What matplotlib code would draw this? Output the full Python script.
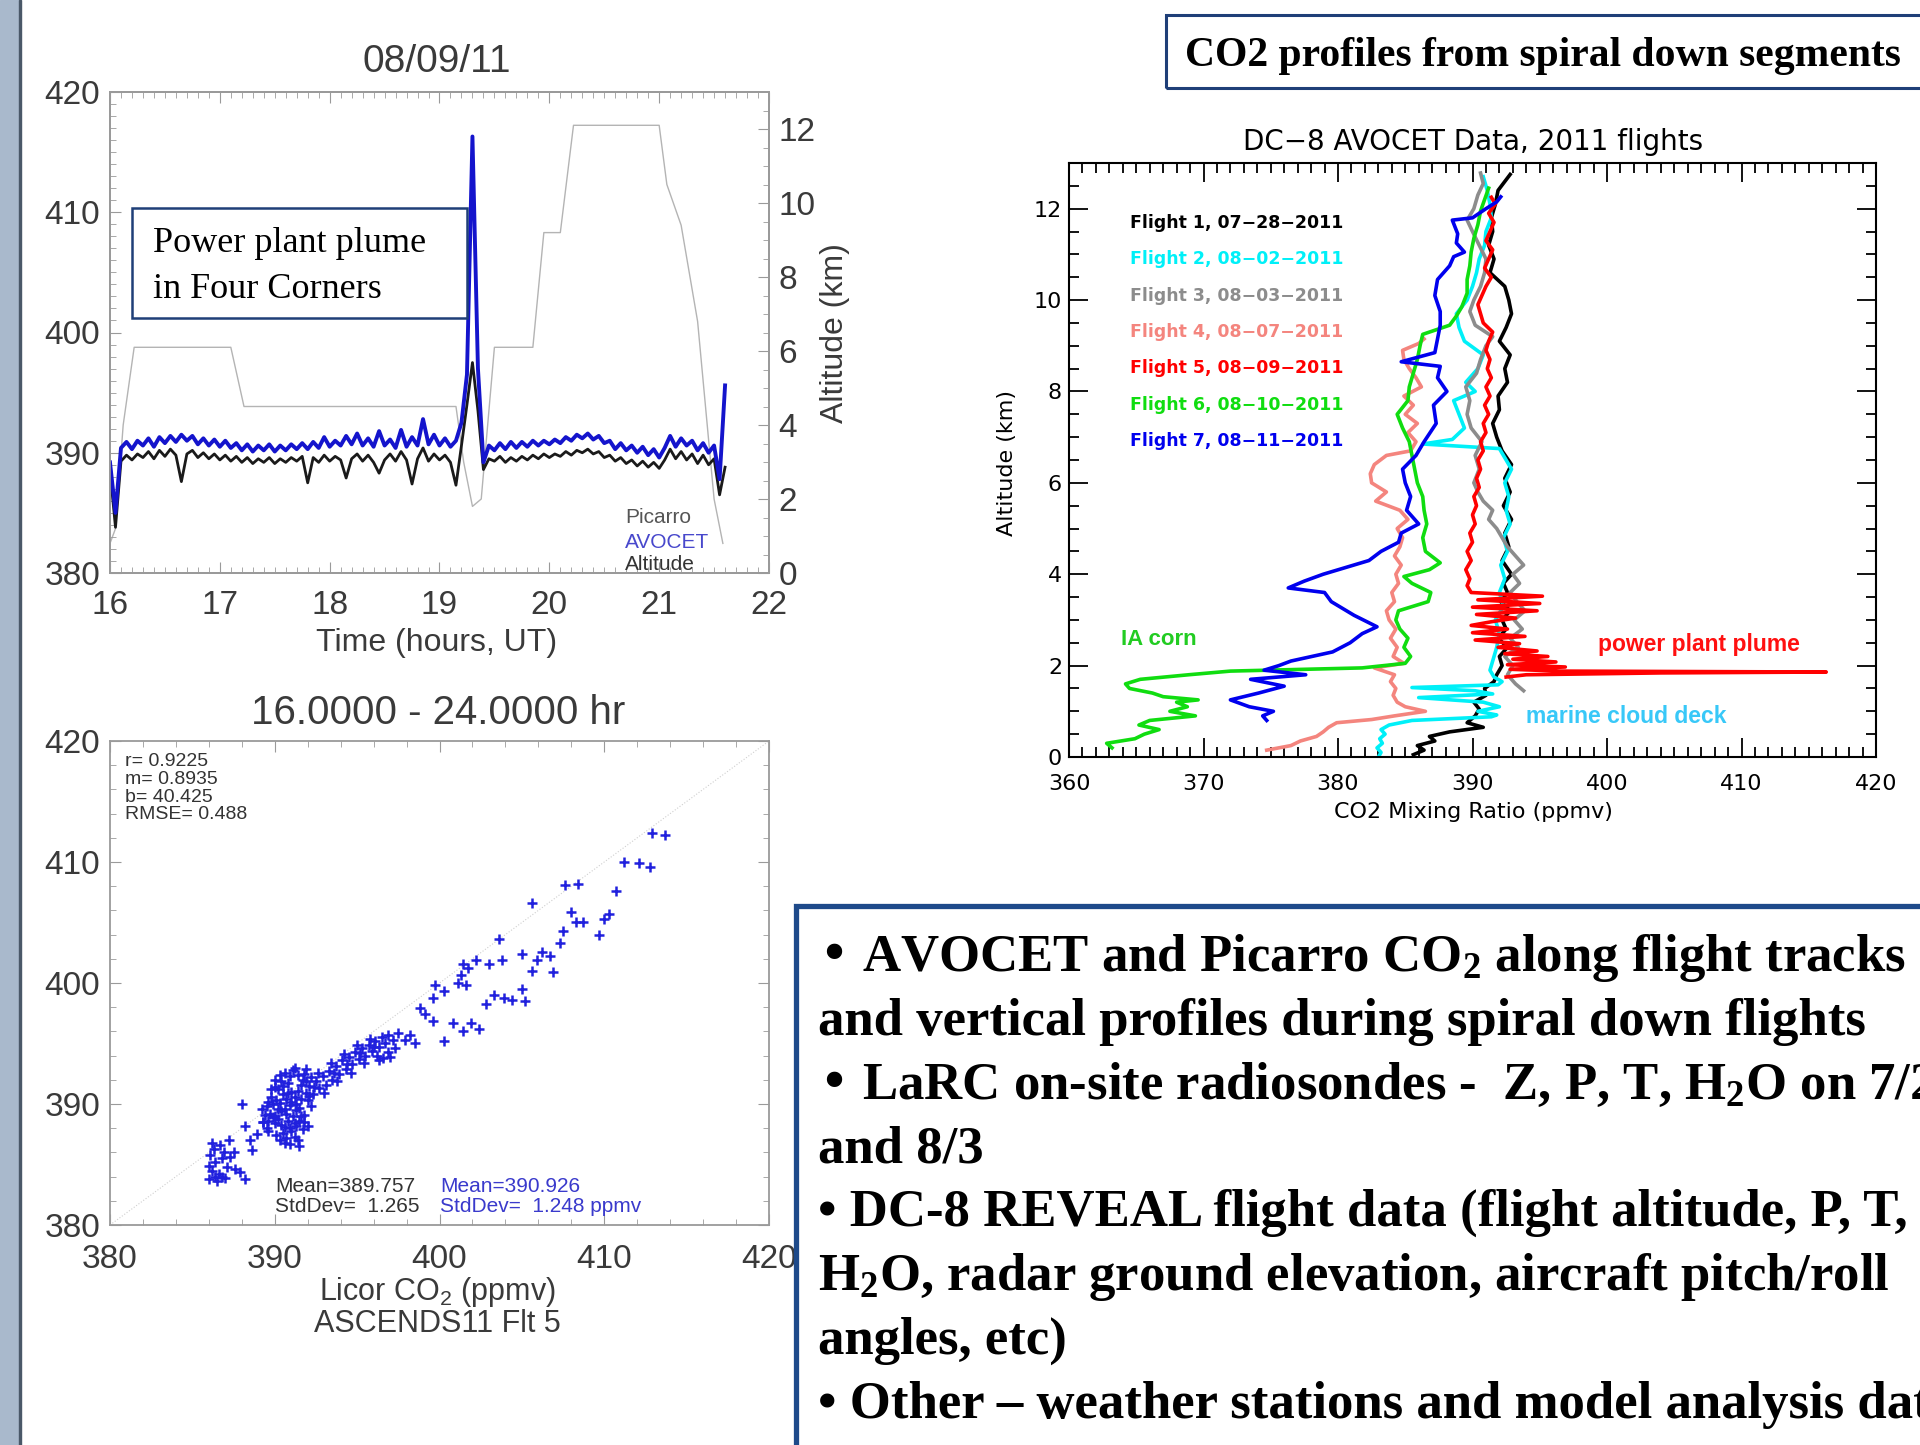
import numpy as np
import matplotlib
matplotlib.use("Agg")
import matplotlib.pyplot as plt
from matplotlib.patches import Rectangle
from matplotlib.ticker import MultipleLocator

plt.rcParams['mathtext.default'] = 'regular'

# ---------------- data: 08/09/11 time series ----------------
t_start, t_step = 16.0, 0.05          # sampling of the CO2 time series (hours UT)
avocet = [389.2, 385.0, 390.4, 390.9, 390.3, 391.0, 390.6, 391.2, 390.5, 391.3,
          390.8, 391.4, 390.9, 391.5, 391.0, 391.4, 390.7, 391.2, 390.6, 391.1,
          390.5, 391.0, 390.4, 390.8, 390.2, 390.7, 390.1, 390.6, 390.2, 390.7,
          390.1, 390.6, 390.2, 390.7, 390.3, 390.8, 390.3, 390.9, 390.4, 391.3,
          390.5, 391.0, 390.6, 391.4, 390.7, 391.6, 390.6, 391.2, 390.5, 391.8,
          390.6, 391.1, 390.4, 391.9, 390.5, 391.3, 390.6, 392.8, 390.7, 391.5,
          390.6, 391.2, 390.5, 391.0, 392.5, 396.5, 416.3, 397.0, 389.2, 390.6,
          390.2, 390.8, 390.3, 390.9, 390.4, 390.9, 390.5, 391.0, 390.6, 391.0,
          390.7, 391.1, 390.8, 391.3, 391.0, 391.5, 391.2, 391.6, 391.1, 391.4,
          390.8, 391.0, 390.3, 390.8, 390.2, 390.6, 390.0, 390.5, 389.8, 390.3,
          389.6, 390.4, 391.4, 390.5, 391.2, 390.6, 391.0, 390.2, 390.8, 390.0,
          390.6, 387.8, 395.6]
picarro = [388.5, 383.8, 389.3, 389.8, 389.4, 389.9, 389.6, 390.1, 389.5, 390.2,
           389.7, 390.3, 389.8, 387.6, 389.9, 390.2, 389.6, 390.0, 389.5, 389.9,
           389.4, 389.8, 389.3, 389.7, 389.2, 389.6, 389.1, 389.5, 389.2, 389.6,
           389.1, 389.5, 389.2, 389.6, 389.3, 389.7, 387.5, 389.6, 389.2, 389.8,
           389.3, 389.7, 389.4, 387.9, 389.5, 389.9, 389.3, 389.8, 389.2, 388.3,
           389.4, 389.9, 389.3, 390.1, 389.4, 387.4, 389.5, 390.4, 389.3, 389.9,
           389.4, 389.8, 389.2, 387.3, 390.6, 394.0, 397.5, 393.5, 388.6, 389.5,
           389.3, 389.7, 389.2, 389.6, 389.3, 389.7, 389.4, 389.8, 389.5, 389.9,
           389.6, 389.9, 389.7, 390.1, 389.8, 390.2, 390.0, 390.3, 389.9, 390.1,
           389.6, 389.8, 389.3, 389.6, 389.1, 389.4, 388.9, 389.3, 388.8, 389.2,
           388.7, 389.4, 390.3, 389.5, 390.1, 389.4, 389.9, 389.1, 389.8, 389.0,
           389.5, 386.5, 388.8]
t_co2 = t_start + t_step * np.arange(len(avocet))

alt_time = [16.00, 16.05, 16.12, 16.22, 17.10, 17.22, 19.15, 19.22, 19.30, 19.38,
            19.50, 19.85, 19.95, 20.10, 20.22, 21.00, 21.07, 21.20, 21.35, 21.50, 21.58]
alt_km = [0.8, 1.2, 4.0, 6.1, 6.1, 4.5, 4.5, 3.0, 1.8, 2.0,
          6.1, 6.1, 9.2, 9.2, 12.1, 12.1, 10.5, 9.4, 6.8, 2.0, 0.8]

# ---------------- data: Licor vs AVOCET scatter ----------------
scatter_pts = [
    (386.0, 383.8), (386.2, 384.5), (386.4, 385.2), (386.1, 385.8), (386.6, 384.2),
    (386.8, 385.5), (386.3, 386.3), (386.9, 386.0), (387.1, 384.8), (386.5, 383.6),
    (387.3, 385.6), (386.7, 386.6), (386.0, 384.9), (387.0, 383.9), (386.4, 384.0),
    (387.5, 386.0), (387.2, 387.0), (386.2, 386.8), (387.6, 384.6), (386.8, 384.0),
    (388.2, 383.8), (387.9, 384.4), (388.5, 387.0), (388.2, 388.2), (388.6, 386.2),
    (388.0, 390.0), (388.9, 387.5), (389.3, 388.5),
    (389.3, 388.5), (389.5, 389.8), (389.6, 387.8), (389.8, 390.6), (389.9, 388.9),
    (390.0, 391.4), (390.1, 387.4), (390.2, 389.6), (390.3, 392.4), (390.4, 388.3),
    (390.5, 390.8), (390.6, 386.8), (390.7, 389.2), (390.8, 391.7), (390.9, 388.0),
    (391.0, 390.2), (391.1, 392.8), (391.2, 387.3), (391.3, 389.5), (391.4, 391.1),
    (391.5, 388.6), (391.6, 390.4), (391.7, 392.0), (391.8, 389.1), (391.9, 390.9),
    (392.0, 388.2), (392.1, 391.5), (392.2, 389.8), (390.3, 390.1), (390.6, 389.6),
    (390.9, 389.9), (391.2, 390.6), (390.1, 390.3), (390.8, 388.6), (391.5, 389.7),
    (390.4, 391.9), (391.0, 387.8), (389.7, 389.2), (392.0, 390.3), (390.7, 390.4),
    (391.3, 388.2), (390.2, 388.8), (391.6, 391.6), (390.5, 387.6), (391.8, 392.5),
    (389.6, 390.2), (390.9, 392.3), (391.4, 387.0), (391.1, 389.0), (390.0, 389.0),
    (389.4, 389.1), (389.8, 391.2), (390.0, 392.0), (390.6, 392.6), (391.2, 393.0),
    (391.9, 392.9), (392.2, 392.2), (389.5, 388.0), (390.3, 387.0), (391.7, 387.9),
    (390.9, 386.7), (391.5, 386.5), (389.9, 390.0), (390.4, 389.4), (391.0, 391.0),
    (391.6, 389.0), (390.2, 391.2), (390.8, 390.9), (391.4, 392.4), (389.6, 388.6),
    (392.1, 390.7), (391.2, 388.4), (390.6, 388.1), (390.0, 388.4), (389.2, 389.6),
    (391.9, 391.9), (390.5, 391.5), (391.3, 390.0), (390.7, 387.2), (391.8, 388.5),
    (392.3, 390.8), (392.5, 391.9), (392.7, 391.3), (392.9, 392.3), (393.1, 391.6),
    (393.3, 392.7), (393.5, 392.0), (393.7, 393.1), (393.9, 392.5), (394.1, 393.6),
    (394.3, 392.9), (394.5, 393.9), (394.7, 393.3), (394.9, 394.3), (395.1, 393.7),
    (395.3, 394.6), (395.5, 394.0), (395.7, 394.9), (395.9, 394.4), (396.1, 395.2),
    (396.3, 394.7), (396.5, 395.5), (396.7, 395.0), (396.9, 395.7), (397.2, 395.3),
    (397.5, 395.9), (392.6, 392.6), (393.0, 390.9), (393.4, 393.4), (393.8, 391.9),
    (394.2, 394.1), (394.6, 392.6), (395.0, 394.9), (395.4, 393.4), (395.8, 395.4),
    (396.2, 394.0), (396.6, 393.8), (397.0, 393.9), (397.3, 394.6), (392.4, 391.4),
    (393.6, 392.6), (394.4, 393.3), (395.2, 394.2), (396.0, 394.7),
    (413.7, 412.2), (412.9, 412.4), (411.2, 410.0), (412.1, 409.9), (412.8, 409.6),
    (410.7, 407.6), (410.3, 405.7), (410.0, 405.3), (409.7, 404.0), (408.7, 405.0),
    (408.3, 405.0), (408.0, 405.9), (407.6, 408.1), (408.4, 408.2), (405.6, 406.6),
    (407.5, 404.3), (407.3, 403.3), (406.7, 402.2), (406.2, 402.6), (405.9, 401.9),
    (405.6, 401.0), (406.9, 400.9), (405.0, 402.4), (405.0, 399.5), (403.6, 403.6),
    (403.8, 401.9), (403.0, 401.6), (402.2, 401.9), (401.7, 401.2), (401.4, 401.6),
    (401.3, 400.7), (401.1, 400.0), (401.6, 399.8), (400.3, 399.3), (399.7, 399.8),
    (399.6, 398.8), (398.8, 397.9), (402.8, 398.3), (403.3, 399.0), (403.9, 398.8),
    (404.4, 398.6), (405.2, 398.5), (402.4, 396.2), (401.9, 396.7), (401.4, 396.0),
    (400.8, 396.7), (400.3, 395.2), (399.6, 396.9), (399.1, 397.4), (398.5, 395.0),
    (398.2, 395.7), (397.9, 395.3), (396.9, 394.3), (396.3, 393.6),
]
one_to_one = [380, 420]

# ---------------- data: DC-8 AVOCET spiral profiles ----------------
alt1 = [0.05, 0.15, 0.25, 0.35, 0.45, 0.55, 0.65, 0.75, 0.90, 1.05,
        1.20, 1.35, 1.50, 1.65, 1.80, 2.00, 2.20, 2.40, 2.60, 2.80,
        3.00, 3.20, 3.40, 3.60, 3.80, 4.00, 4.30, 4.60, 4.90, 5.20,
        5.50, 5.80, 6.10, 6.40, 6.70, 7.00, 7.30, 7.60, 7.90, 8.20,
        8.50, 8.80, 9.10, 9.40, 9.70, 10.00, 10.30, 10.60, 10.90, 11.20,
        11.50, 11.80, 12.10, 12.40, 12.75]
co2_1 = [385.6, 386.4, 385.9, 387.2, 386.8, 388.3, 390.8, 389.6, 390.2, 390.5,
         390.1, 391.0, 390.9, 391.6, 391.8, 392.2, 392.0, 392.6, 391.9, 392.5,
         392.2, 392.8, 392.1, 392.6, 392.3, 392.9, 392.2, 392.7, 392.4, 392.9,
         392.3, 392.8, 392.4, 392.9, 392.2, 391.8, 391.5, 392.0, 391.9, 392.6,
         392.4, 392.8, 392.0, 392.5, 392.9, 392.7, 392.4, 391.3, 391.6, 391.2,
         391.5, 391.4, 391.7, 391.9, 392.8]
alt2 = [0.00, 0.10, 0.20, 0.30, 0.40, 0.50, 0.60, 0.70, 0.80, 0.88,
        0.92, 1.00, 1.10, 1.20, 1.30, 1.38, 1.45, 1.52, 1.58, 1.65,
        1.75, 1.90, 2.10, 2.40, 2.70, 3.00, 3.30, 3.60, 3.90, 4.20,
        4.50, 4.80, 5.10, 5.40, 5.70, 6.00, 6.30, 6.60, 6.75, 6.85,
        6.95, 7.20, 7.50, 7.80, 8.00, 8.20, 8.50, 8.80, 9.10, 9.40,
        9.70, 10.00, 10.30, 10.60, 10.90, 11.20, 11.50, 11.80, 12.10, 12.40,
        12.70]
co2_2 = [383.0, 383.2, 382.9, 383.3, 383.1, 383.5, 383.2, 383.8, 385.5, 391.4,
         391.8, 390.4, 392.0, 390.8, 386.0, 391.5, 390.2, 385.5, 391.9, 392.2,
         391.6, 391.3, 391.5, 391.8, 392.0, 391.7, 392.3, 392.0, 392.4, 392.1,
         392.6, 392.3, 392.8, 392.5, 392.7, 392.4, 392.9, 392.3, 392.0, 386.3,
         388.5, 389.4, 389.0, 388.6, 390.2, 389.5, 390.4, 390.8, 389.4, 389.0,
         388.8, 389.6, 390.0, 390.3, 390.5, 390.9, 391.0, 391.4, 391.3, 391.1,
         390.8]
alt3 = [1.45, 1.60, 1.80, 2.00, 2.20, 2.40, 2.60, 2.80, 3.00, 3.20,
        3.40, 3.60, 3.80, 4.00, 4.20, 4.40, 4.60, 4.80, 5.00, 5.20,
        5.40, 5.60, 5.80, 6.00, 6.30, 6.60, 6.90, 7.20, 7.50, 7.80,
        8.10, 8.40, 8.70, 9.00, 9.20, 9.45, 9.75, 10.00, 10.30, 10.60,
        10.90, 11.20, 11.50, 11.75, 12.00, 12.30, 12.55, 12.78]
co2_3 = [393.8, 393.2, 392.6, 393.0, 392.4, 393.4, 392.8, 393.7, 393.1, 393.9,
         393.3, 392.8, 393.5, 393.0, 393.8, 393.2, 392.6, 392.2, 391.8, 391.2,
         391.5, 390.8, 390.4, 390.1, 390.5, 390.2, 390.7, 389.9, 389.6, 389.8,
         389.5, 390.3, 390.6, 391.0, 391.5, 390.2, 389.8, 390.1, 390.6, 390.9,
         391.0, 390.5, 390.0, 389.6, 390.1, 390.4, 390.8, 390.6]
alt4 = [0.15, 0.25, 0.35, 0.45, 0.55, 0.65, 0.75, 0.82, 0.90, 1.00,
        1.10, 1.20, 1.35, 1.50, 1.65, 1.80, 1.95, 2.05, 2.20, 2.40,
        2.60, 2.80, 3.00, 3.20, 3.40, 3.60, 3.80, 4.00, 4.20, 4.40,
        4.60, 4.80, 5.00, 5.20, 5.40, 5.60, 5.80, 6.00, 6.20, 6.40,
        6.60, 6.70, 6.90, 7.10, 7.30, 7.50, 7.70, 7.90, 8.10, 8.30,
        8.50, 8.70, 8.90, 9.05, 9.15]
co2_4 = [374.7, 376.5, 377.2, 378.4, 378.9, 379.3, 379.9, 382.5, 384.2, 386.5,
         385.0, 384.4, 384.1, 384.3, 383.9, 384.2, 382.7, 384.9, 384.1, 384.4,
         383.9, 384.3, 383.8, 383.6, 384.2, 384.0, 384.5, 384.3, 384.7, 384.2,
         384.6, 384.8, 384.4, 385.2, 384.6, 382.8, 383.6, 382.5, 382.4, 382.7,
         383.6, 385.4, 385.8, 385.2, 385.9, 385.0, 385.6, 384.9, 386.2, 385.8,
         385.3, 384.9, 384.8, 386.0, 386.4]
alt5 = [1.75, 1.80, 1.84, 1.86, 1.88, 1.92, 1.97, 2.02, 2.08, 2.14,
        2.20, 2.26, 2.32, 2.40, 2.48, 2.56, 2.64, 2.72, 2.80, 2.88,
        2.96, 3.04, 3.12, 3.20, 3.28, 3.36, 3.44, 3.52, 3.60, 3.75,
        3.90, 4.10, 4.30, 4.50, 4.70, 4.90, 5.10, 5.30, 5.50, 5.70,
        5.90, 6.10, 6.30, 6.50, 6.70, 6.90, 7.10, 7.30, 7.50, 7.70,
        7.90, 8.10, 8.30, 8.50, 8.70, 8.90, 9.10, 9.30, 9.50, 9.70,
        9.90, 10.10, 10.30, 10.50, 10.70, 10.90, 11.10, 11.30, 11.50, 11.70,
        11.90, 12.10, 12.25]
co2_5 = [392.5, 394.0, 404.0, 416.3, 396.5, 392.8, 396.9, 392.6, 396.2, 393.0,
         395.6, 392.4, 394.8, 391.9, 393.5, 390.2, 393.9, 390.0, 392.6, 389.9,
         391.4, 393.2, 390.3, 394.8, 390.0, 395.0, 390.4, 395.2, 389.9, 389.6,
         389.8, 389.5, 389.9, 389.6, 390.0, 389.8, 390.2, 390.0, 390.3, 390.1,
         390.5, 390.3, 390.6, 390.4, 390.8, 390.6, 391.0, 390.8, 391.2, 390.9,
         391.3, 391.0, 391.4, 391.1, 391.3, 391.0, 391.2, 391.5, 390.8, 390.6,
         390.4, 390.7, 391.0, 391.4, 390.9, 391.2, 391.5, 391.0, 391.3, 391.6,
         391.2, 391.7, 391.4]
alt6 = [0.20, 0.30, 0.40, 0.50, 0.60, 0.70, 0.80, 0.90, 1.00, 1.10,
        1.20, 1.25, 1.32, 1.40, 1.50, 1.60, 1.70, 1.80, 1.88, 1.95,
        2.05, 2.20, 2.40, 2.60, 2.80, 3.00, 3.20, 3.40, 3.60, 3.80,
        3.95, 4.10, 4.25, 4.50, 4.80, 5.10, 5.40, 5.70, 6.00, 6.30,
        6.60, 6.90, 7.20, 7.50, 7.80, 8.10, 8.40, 8.70, 9.00, 9.25,
        9.45, 9.65, 9.85, 10.15, 10.45, 10.75, 11.05, 11.35, 11.65, 11.95,
        12.20, 12.45]
co2_6 = [363.2, 362.8, 364.9, 365.6, 366.7, 365.2, 366.0, 369.4, 367.5, 368.8,
         368.0, 369.6, 367.0, 366.2, 364.5, 364.2, 365.3, 368.9, 372.0, 381.8,
         385.0, 385.4, 384.9, 385.2, 384.6, 384.3, 384.5, 386.7, 386.9, 385.5,
         384.9, 386.8, 387.6, 386.5, 386.3, 386.6, 386.4, 386.3, 385.9, 385.7,
         385.5, 385.3, 384.8, 384.4, 385.2, 385.3, 385.6, 385.9, 386.1, 386.3,
         388.3, 388.8, 389.2, 389.6, 389.6, 389.8, 389.9, 390.1, 390.4, 390.6,
         390.9, 391.2]
alt7 = [0.80, 0.90, 1.00, 1.10, 1.25, 1.40, 1.55, 1.70, 1.80, 1.90,
        2.00, 2.10, 2.30, 2.50, 2.70, 2.85, 3.10, 3.40, 3.60, 3.70,
        3.85, 4.00, 4.15, 4.30, 4.50, 4.70, 4.90, 5.10, 5.40, 5.70,
        6.00, 6.30, 6.60, 6.90, 7.30, 7.70, 8.00, 8.30, 8.55, 8.65,
        8.85, 9.15, 9.45, 9.75, 10.10, 10.45, 10.75, 10.95, 11.05, 11.25,
        11.45, 11.75, 11.80, 12.00, 12.15, 12.26]
co2_7 = [374.7, 374.4, 375.2, 373.4, 372.0, 374.1, 376.0, 373.5, 377.6, 374.5,
         375.6, 376.5, 379.6, 380.9, 381.8, 382.9, 381.2, 379.5, 379.0, 376.3,
         377.5, 378.9, 380.6, 382.3, 383.2, 384.5, 384.7, 386.0, 385.1, 385.4,
         385.0, 384.8, 385.8, 386.4, 387.3, 387.1, 388.1, 387.4, 387.6, 384.7,
         387.2, 387.4, 387.6, 387.6, 387.2, 387.4, 388.3, 388.6, 389.4, 388.8,
         388.9, 388.5, 390.0, 391.0, 391.8, 392.1]

flight_labels = ['Flight 1, 07\u221228\u22122011', 'Flight 2, 08\u221202\u22122011',
                 'Flight 3, 08\u221203\u22122011', 'Flight 4, 08\u221207\u22122011',
                 'Flight 5, 08\u221209\u22122011', 'Flight 6, 08\u221210\u22122011',
                 'Flight 7, 08\u221211\u22122011']
flight_colors = ['#000000', '#00F0F8', '#8c8c8c', '#F4857E', '#FF0000', '#10DD10', '#0000EE']
profiles = [(co2_1, alt1), (co2_2, alt2), (co2_3, alt3), (co2_4, alt4),
            (co2_5, alt5), (co2_6, alt6), (co2_7, alt7)]

bullets = [
    "\u2022 AVOCET and Picarro CO$_2$ along flight tracks",
    "and vertical profiles during spiral down flights",
    "\u2022 LaRC on-site radiosondes -  Z, P, T, H$_2$O on 7/28",
    "and 8/3",
    "\u2022 DC-8 REVEAL flight data (flight altitude, P, T,",
    "H$_2$O, radar ground elevation, aircraft pitch/roll",
    "angles, etc)",
    "\u2022 Other \u2013 weather stations and model analysis data",
]

# ---------------- layout helpers (pixels of the 1920x1445 slide) ----------------
W, H = 1920, 1445
fig = plt.figure(figsize=(W / 100, H / 100), dpi=100)
fig.patch.set_facecolor('white')


def box(l, t, r, b):
    return [l / W, 1 - b / H, (r - l) / W, (b - t) / H]


def fx(x):
    return x / W


def fy(y):
    return 1 - y / H


sans = 'Liberation Sans'
serif = 'Liberation Serif'
grey = '#3a3a3a'
frame_grey = '#9a9a9a'
navy = '#1F3F78'

# left side strip of the slide
fig.patches.append(Rectangle((0, 0), fx(19), 1, transform=fig.transFigure,
                             color='#A9B9CC', zorder=0))
fig.patches.append(Rectangle((fx(19), 0), fx(2), 1, transform=fig.transFigure,
                             color='#4A5868', zorder=0))


def grey_frame(ax):
    for s in ax.spines.values():
        s.set_color(frame_grey)
        s.set_linewidth(1.3)


# ---------------- top-left: time series ----------------
ax1 = fig.add_axes(box(110, 92, 769, 573))
ax1b = ax1.twinx()
ax1.set_zorder(ax1b.get_zorder() + 1)
ax1.patch.set_visible(False)

ax1b.plot(alt_time, alt_km, color='#b4b4b4', lw=1.0)
ax1.plot(t_co2, picarro, color='#1a1a1a', lw=2.0)
ax1.plot(t_co2, avocet, color='#1414CC', lw=2.8)

ax1.set_xlim(16, 22)
ax1.set_ylim(380, 420)
ax1b.set_ylim(0, 13)
ax1.xaxis.set_major_locator(MultipleLocator(1))
ax1.xaxis.set_minor_locator(MultipleLocator(0.1))
ax1.yaxis.set_major_locator(MultipleLocator(10))
ax1.yaxis.set_minor_locator(MultipleLocator(1))
ax1b.yaxis.set_major_locator(MultipleLocator(2))
ax1b.yaxis.set_minor_locator(MultipleLocator(0.5))
for a in (ax1, ax1b):
    grey_frame(a)
ax1.tick_params(which='both', direction='in', top=True, right=False, color=frame_grey,
                labelcolor=grey, labelsize=24, labelfontfamily=sans)
ax1.tick_params(which='major', length=8)
ax1.tick_params(which='minor', length=4)
ax1.tick_params(axis='x', pad=12)
ax1.tick_params(axis='y', pad=7)
ax1b.tick_params(which='both', direction='in', left=False, right=True, color=frame_grey,
                 labelcolor=grey, labelsize=24, labelfontfamily=sans, pad=7)
ax1b.tick_params(which='major', length=8)
ax1b.tick_params(which='minor', length=4)

fig.text(fx(437), fy(62), '08/09/11', ha='center', va='center', fontsize=28,
         family=sans, color=grey)
fig.text(fx(437), fy(643), 'Time (hours, UT)', ha='center', va='center', fontsize=23,
         family=sans, color=grey)
fig.text(fx(835), fy(333), 'Altitude (km)', ha='center', va='center', fontsize=23,
         family=sans, color=grey, rotation=90)
fig.text(fx(625), fy(518), 'Picarro', va='center', fontsize=15, family=sans, color='#555555')
fig.text(fx(625), fy(542), 'AVOCET', va='center', fontsize=15, family=sans, color='#4848CC')
fig.text(fx(625), fy(565), 'Altitude', va='center', fontsize=15, family=sans, color='#333333')

fig.patches.append(Rectangle((fx(132), fy(318)), fx(467 - 132), (318 - 208) / H,
                             transform=fig.transFigure, facecolor='white',
                             edgecolor=navy, lw=1.8, zorder=5))
fig.text(fx(153), fy(244), 'Power plant plume', va='center', fontsize=26,
         family=serif, color='black', zorder=6)
fig.text(fx(153), fy(289), 'in Four Corners', va='center', fontsize=26,
         family=serif, color='black', zorder=6)

# ---------------- bottom-left: scatter ----------------
ax2 = fig.add_axes(box(110, 741, 769, 1225))
sx, sy = np.array(scatter_pts).T
ax2.plot(one_to_one, one_to_one, color='#cfcfcf', lw=0.8, ls=':')
ax2.plot(sx, sy, ls='none', marker='+', ms=7, mew=1.8, color='#2020DD')
ax2.set_xlim(380, 420)
ax2.set_ylim(380, 420)
for a in (ax2.xaxis, ax2.yaxis):
    a.set_major_locator(MultipleLocator(10))
    a.set_minor_locator(MultipleLocator(2))
grey_frame(ax2)
ax2.tick_params(which='both', direction='in', top=True, right=True, color=frame_grey,
                labelcolor=grey, labelsize=24, labelfontfamily=sans)
ax2.tick_params(which='major', length=8)
ax2.tick_params(which='minor', length=4)
ax2.tick_params(axis='x', pad=14)
ax2.tick_params(axis='y', pad=7)

fig.text(fx(438), fy(713), '16.0000 - 24.0000 hr', ha='center', va='center',
         fontsize=29, family=sans, color=grey)
fig.text(fx(437), fy(1292), 'Licor CO$_2$ (ppmv)', ha='center', va='center',
         fontsize=22, family=sans, color=grey)
fig.text(fx(437), fy(1324), 'ASCENDS11 Flt 5', ha='center', va='center',
         fontsize=22, family=sans, color=grey)
for i, s in enumerate(['r= 0.9225', 'm= 0.8935', 'b= 40.425', 'RMSE= 0.488']):
    fig.text(fx(125), fy(762 + 17.5 * i), s, va='center', fontsize=14,
             family=sans, color='#333333')
fig.text(fx(275), fy(1187), 'Mean=389.757', va='center', fontsize=15, family=sans, color='#333333')
fig.text(fx(275), fy(1207), 'StdDev=  1.265', va='center', fontsize=15, family=sans, color='#333333')
fig.text(fx(440), fy(1187), 'Mean=390.926', va='center', fontsize=15, family=sans, color='#3A3ACC')
fig.text(fx(440), fy(1207), 'StdDev=  1.248 ppmv', va='center', fontsize=15, family=sans, color='#3A3ACC')

# ---------------- right: DC-8 profiles ----------------
ax3 = fig.add_axes(box(1069, 163, 1876, 757))
for (c, a), col in zip(profiles, flight_colors):
    ax3.plot(c, a, color=col, lw=2.6)
ax3.set_xlim(360, 420)
ax3.set_ylim(0, 13)
ax3.xaxis.set_major_locator(MultipleLocator(10))
ax3.xaxis.set_minor_locator(MultipleLocator(1))
ax3.yaxis.set_major_locator(MultipleLocator(2))
ax3.yaxis.set_minor_locator(MultipleLocator(0.5))
for s in ax3.spines.values():
    s.set_linewidth(1.5)
ax3.tick_params(which='both', direction='in', top=True, right=True, width=1.3,
                labelsize=16, labelfontfamily='DejaVu Sans')
ax3.tick_params(which='major', length=14)
ax3.tick_params(which='minor', length=7)
ax3.tick_params(axis='x', pad=12)
ax3.tick_params(axis='y', pad=5)

for i, (lbl, col) in enumerate(zip(flight_labels, flight_colors)):
    ax3.text(0.076, 0.899 - 0.0612 * i, lbl, transform=ax3.transAxes, color=col,
             fontsize=12.5, fontweight='bold', family='DejaVu Sans', va='center')
ax3.text(0.064, 0.198, 'IA corn', transform=ax3.transAxes, color='#22CC22',
         fontsize=16, fontweight='bold', family=sans, va='center')
ax3.text(0.6555, 0.19, 'power plant plume', transform=ax3.transAxes, color='#FF1010',
         fontsize=16.5, fontweight='bold', family=sans, va='center')
ax3.text(0.566, 0.068, 'marine cloud deck', transform=ax3.transAxes, color='#38C8F8',
         fontsize=16.5, fontweight='bold', family=sans, va='center')

fig.text(fx(1473), fy(142), 'DC\u22128 AVOCET Data, 2011 flights', ha='center', va='center',
         fontsize=20, family='DejaVu Sans')
fig.text(fx(1473), fy(812), 'CO2 Mixing Ratio (ppmv)', ha='center', va='center',
         fontsize=16, family='DejaVu Sans')
fig.text(fx(1007), fy(463), 'Altitude (km)', ha='center', va='center', rotation=90,
         fontsize=16, family='DejaVu Sans')

# title box
fig.patches.append(Rectangle((fx(1166), fy(88)), fx(900), (88 - 15) / H,
                             transform=fig.transFigure, fill=False, edgecolor=navy,
                             lw=2.2, zorder=5))
fig.text(fx(1185), fy(56), 'CO2 profiles from spiral down segments', va='center',
         fontsize=30, family=serif, fontweight='bold')

# bullet box
fig.patches.append(Rectangle((fx(796), fy(1500)), fx(1300), (1500 - 906) / H,
                             transform=fig.transFigure, fill=False, edgecolor='#1E4A8A',
                             lw=3.8, zorder=5))
for i, s in enumerate(bullets):
    fig.text(fx(818), fy(971 + 63.8 * i), s, va='baseline', fontsize=38,
             family=serif, fontweight='bold')

fig.savefig('out.png', dpi=100)
